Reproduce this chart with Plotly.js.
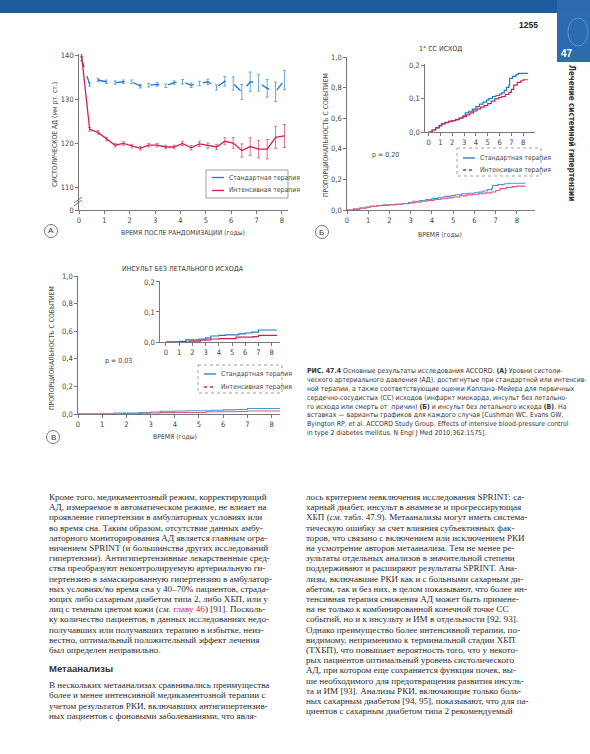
<!DOCTYPE html>
<html><head><meta charset="utf-8">
<script src="https://cdn.plot.ly/plotly-3.0.1.min.js"></script>
<style>html,body{margin:0;padding:0;background:#fff}#chart{width:590px;height:754px}</style>
</head><body><div id="chart"></div>
<script>
// ---------- DATA ----------
const seriesNames = ["Стандартная терапия", "Интенсивная терапия"];
// Panel A: systolic BP over time
const timeA = [0.1, 0.42, 0.75, 1.08, 1.42, 1.75, 2.08, 2.42, 2.75, 3.08, 3.42, 3.75, 4.08, 4.42, 4.75, 5.08, 5.42, 5.75, 6.08, 6.42, 6.75, 7.08, 7.42, 7.75, 8.1];
const stdSBP = [139.2, 133.4, 134.4, 134.0, 133.8, 134.0, 134.0, 133.0, 133.2, 133.4, 133.1, 133.8, 134.0, 133.2, 133.6, 134.0, 132.7, 134.1, 133.6, 131.7, 134.0, 133.8, 132.5, 131.7, 134.4];
const stdErr = [0.4, 0.4, 0.4, 0.4, 0.4, 0.4, 0.4, 0.4, 0.4, 0.4, 0.4, 0.4, 0.5, 0.5, 0.5, 0.6, 0.6, 1.1, 1.5, 1.7, 2.2, 1.9, 2.0, 2.2, 2.2];
const intSBP = [140.0, 123.2, 122.5, 121.0, 119.6, 120.0, 119.4, 118.9, 119.6, 119.6, 119.2, 119.2, 120.0, 119.0, 119.9, 119.5, 119.2, 120.5, 120.1, 118.4, 119.3, 118.7, 118.7, 121.4, 121.7];
const intErr = [0.3, 0.4, 0.4, 0.4, 0.4, 0.4, 0.4, 0.4, 0.4, 0.4, 0.4, 0.4, 0.5, 0.5, 0.6, 0.6, 0.6, 0.8, 1.2, 1.5, 2.0, 2.0, 2.2, 2.5, 2.6];
const yTicksA = [104.9, 110, 120, 130, 140];
const yTickTextA = ["0", "110", "120", "130", "140"];
// Panel B: primary CV outcome (Kaplan–Meier)
const timeB_std = [0, 0.3, 0.6, 0.9, 1.1, 1.4, 1.7, 2.0, 2.3, 2.6, 2.9, 3.1, 3.4, 3.7, 4.0, 4.3, 4.6, 4.9, 5.1, 5.4, 5.7, 6.0, 6.2, 6.4, 6.6, 6.8, 6.85, 7.1, 7.4, 7.6, 8.4];
const propB_std = [0, 0.006, 0.013, 0.02, 0.025, 0.029, 0.032, 0.034, 0.038, 0.042, 0.048, 0.057, 0.062, 0.068, 0.076, 0.083, 0.089, 0.095, 0.1, 0.106, 0.109, 0.113, 0.117, 0.124, 0.133, 0.14, 0.16, 0.166, 0.172, 0.175, 0.175];
const timeB_int = [0, 0.3, 0.6, 0.9, 1.1, 1.4, 1.7, 2.0, 2.3, 2.6, 2.9, 3.2, 3.5, 3.8, 4.1, 4.4, 4.7, 5.0, 5.3, 5.6, 5.9, 6.2, 6.5, 6.8, 7.0, 7.2, 7.5, 7.8, 8.0, 8.4];
const propB_int = [0, 0.006, 0.012, 0.018, 0.024, 0.028, 0.032, 0.034, 0.037, 0.041, 0.046, 0.051, 0.057, 0.063, 0.069, 0.074, 0.079, 0.085, 0.092, 0.099, 0.103, 0.106, 0.112, 0.118, 0.127, 0.14, 0.148, 0.153, 0.156, 0.156];
// Panel C: nonfatal stroke (Kaplan–Meier)
const timeC_std = [0, 1.0, 1.5, 2.5, 3.0, 3.4, 4.0, 4.5, 5.5, 6.0, 6.5, 7.0, 8.4];
const propC_std = [0, 0.002, 0.007, 0.01, 0.014, 0.02, 0.022, 0.024, 0.027, 0.03, 0.033, 0.04, 0.04];
const timeC_int = [0, 1.8, 2.6, 3.0, 3.4, 4.0, 5.3, 6.6, 7.0, 8.4];
const propC_int = [0, 0.003, 0.006, 0.007, 0.01, 0.011, 0.016, 0.018, 0.022, 0.022];
const yTicksMain = [0, 0.2, 0.4, 0.6, 0.8, 1.0];
const yTicksInset = [0, 0.1, 0.2];
const xTicks = [0, 1, 2, 3, 4, 5, 6, 7, 8];

const leftLines = [
"Кроме того, медикаментозный режим, корректирующий",
"АД, измеряемое в автоматическом режиме, не влияет на",
"проявление гипертензии в амбулаторных условиях или",
"во время сна. Таким образом, отсутствие данных амбу-",
"латорного мониторирования АД является главным огра-",
"ничением SPRINT (и большинства других исследований",
"гипертензии). Антигипертензивные лекарственные сред-",
"ства преобразуют неконтролируемую артериальную ги-",
"пертензию в замаскированную гипертензию в амбулатор-",
"ных условиях/во время сна у 40–70% пациентов, страда-",
"ющих либо сахарным диабетом типа 2, либо ХБП, или у",
"лиц с темным цветом кожи (<i>см.</i> <span style='color:#c8205a'>главу 46</span>) [91]. Посколь-",
"ку количество пациентов, в данных исследованиях недо-",
"получавших или получавших терапию в избытке, неиз-",
"вестно, оптимальный положительный эффект лечения",
"был определен неправильно."
];
const leftLines2 = [
"В нескольких метаанализах сравнивались преимущества",
"более и менее интенсивной медикаментозной терапии с",
"учетом результатов РКИ, включавших антигипертензив-",
"ных пациентов с фоновыми заболеваниями, что явля-"
];
const rightLines = [
"лось критерием невключения исследования SPRINT: са-",
"харный диабет, инсульт в анамнезе и прогрессирующая",
"ХБП (<i>см.</i> табл. 47.9). Метаанализы могут иметь система-",
"тическую ошибку за счет влияния субъективных фак-",
"торов, что связано с включением или исключением РКИ",
"на усмотрение авторов метаанализа. Тем не менее ре-",
"зультаты отдельных анализов в значительной степени",
"поддерживают и расширяют результаты SPRINT. Ана-",
"лизы, включавшие РКИ как и с больными сахарным ди-",
"абетом, так и без них, в целом показывают, что более ин-",
"тенсивная терапия снижения АД может быть примене-",
"на не только к комбинированной конечной точке СС",
"событий, но и к инсульту и ИМ в отдельности [92, 93].",
"Однако преимущество более интенсивной терапии, по-",
"видимому, неприменимо к терминальной стадии ХБП",
"(ТХБП), что повышает вероятность того, что у некото-",
"рых пациентов оптимальный уровень систолического",
"АД, при котором еще сохраняется функция почек, вы-",
"ше необходимого для предотвращения развития инсуль-",
"та и ИМ [93]. Анализы РКИ, включающие только боль-",
"ных сахарным диабетом [94, 95], показывают, что для па-",
"циентов с сахарным диабетом типа 2 рекомендуемый"
];
const captionLines = [
"<b>РИС. 47.4</b> Основные результаты исследования ACCORD. <b>(А)</b> Уровни систоли-",
"ческого артериального давления (АД), достигнутые при стандартной или интенсив-",
"ной терапии, а также соответствующие оценки Каплана–Мейера для первичных",
"сердечно-сосудистых (СС) исходов (инфаркт миокарда, инсульт без летально-",
"го исхода или смерть от  причин) <b>(Б)</b> и инсульт без летального исхода <b>(В)</b>. На",
"вставках — варианты графиков для каждого случая [Cushman WC, Evans GW,",
"Byington RP, et al. ACCORD Study Group. Effects of intensive blood-pressure control",
"in type 2 diabetes mellitus. N Engl J Med 2010;362:1575]."
];

// ---------- STYLE ----------
const W = 590, H = 754;
const PX = x => x / W, PY = y => 1 - y / H;
const BLUE = '#1f78c8', RED = '#d41f4f';
const NARROW = "'Liberation Sans Narrow', 'DejaVu Sans Condensed', 'Arial Narrow', sans-serif";
const SERIF = "'Liberation Serif', 'DejaVu Serif', serif";
const tickFont = {family: NARROW, size: 7.5, color: '#444'};

function axis(extra) {
  return Object.assign({
    showgrid: false, zeroline: false, showline: true, linecolor: '#555', linewidth: 0.8,
    ticks: 'outside', ticklen: 3, tickwidth: 0.8, tickcolor: '#555', tickfont: tickFont,
    fixedrange: true
  }, extra);
}

const data = [
  {x: timeA, y: stdSBP, xaxis: 'x', yaxis: 'y', mode: 'lines', name: seriesNames[0],
   line: {color: BLUE, width: 1.3, dash: 'dash'},
   error_y: {type: 'data', array: stdErr, color: '#6aa8e0', thickness: 1, width: 1.5}},
  {x: timeA, y: intSBP, xaxis: 'x', yaxis: 'y', mode: 'lines', name: seriesNames[1],
   line: {color: RED, width: 1.3},
   error_y: {type: 'data', array: intErr, color: '#e0708f', thickness: 1, width: 1.5}},
  {x: timeB_std, y: propB_std, xaxis: 'x2', yaxis: 'y2', mode: 'lines', line: {color: '#4a98dc', width: 1.1, shape: 'hv'}},
  {x: timeB_int, y: propB_int, xaxis: 'x2', yaxis: 'y2', mode: 'lines', line: {color: '#e05a80', width: 1.1, shape: 'hv'}},
  {x: timeB_std, y: propB_std, xaxis: 'x3', yaxis: 'y3', mode: 'lines', line: {color: BLUE, width: 1.2, shape: 'hv'}},
  {x: timeB_int, y: propB_int, xaxis: 'x3', yaxis: 'y3', mode: 'lines', line: {color: RED, width: 1.2, shape: 'hv'}},
  {x: timeC_std, y: propC_std, xaxis: 'x4', yaxis: 'y4', mode: 'lines', line: {color: '#4a98dc', width: 1.1, shape: 'hv'}},
  {x: timeC_int, y: propC_int, xaxis: 'x4', yaxis: 'y4', mode: 'lines', line: {color: '#e05a80', width: 1.1, shape: 'hv'}},
  {x: timeC_std, y: propC_std, xaxis: 'x5', yaxis: 'y5', mode: 'lines', line: {color: BLUE, width: 1.2, shape: 'hv'}},
  {x: timeC_int, y: propC_int, xaxis: 'x5', yaxis: 'y5', mode: 'lines', line: {color: RED, width: 1.2, shape: 'hv'}}
];

const annotations = [];
const shapes = [];
function txt(x, y, text, opts) {
  annotations.push(Object.assign({x: PX(x), y: PY(y), xref: 'paper', yref: 'paper', text: text,
    showarrow: false, xanchor: 'left', yanchor: 'middle',
    font: {family: NARROW, size: 7, color: '#333'}}, opts || {}));
}
function line(x0, y0, x1, y1, color, width, dash) {
  shapes.push({type: 'line', xref: 'paper', yref: 'paper', x0: PX(x0), y0: PY(y0), x1: PX(x1), y1: PY(y1),
    line: {color: color, width: width || 1, dash: dash || 'solid'}});
}
function rect(x0, y0, x1, y1, fill, lc, lw, dash) {
  shapes.push({type: 'rect', xref: 'paper', yref: 'paper', x0: PX(x0), y0: PY(y0), x1: PX(x1), y1: PY(y1),
    fillcolor: fill, line: {color: lc || fill, width: lw === undefined ? 0 : lw, dash: dash || 'solid'}});
}
function circleLabel(cx, cy, letter) {
  shapes.push({type: 'circle', xref: 'paper', yref: 'paper', x0: PX(cx - 6.5), x1: PX(cx + 6.5), y0: PY(cy + 6.5), y1: PY(cy - 6.5),
    line: {color: '#555', width: 0.8}});
  txt(cx, cy, letter, {xanchor: 'center', font: {family: "'Liberation Sans', sans-serif", size: 8, color: '#333'}});
}
function legendBox(x0, y0, x1, y1, ys, dashBorder) {
  rect(x0, y0, x1, y1, 'rgba(255,255,255,1)', '#888', 0.8, dashBorder ? 'dot' : 'solid');
  line(x0 + 6, ys[0], x0 + 18, ys[0], BLUE, 1.3);
  line(x0 + 6, ys[1], x0 + 18, ys[1], RED, 1.3, dashBorder ? 'dot' : 'solid');
  txt(x0 + 21, ys[0], seriesNames[0], {font: {family: NARROW, size: 6.8, color: '#444'}});
  txt(x0 + 21, ys[1], seriesNames[1], {font: {family: NARROW, size: 6.8, color: '#444'}});
}

// Header
rect(0, 0, 590, 13, '#1d5c9e');
rect(557, 0, 590, 13, '#2c6aae');
rect(557, 13, 590, 62, '#2b6cb0');
shapes.push({type: 'circle', xref: 'paper', yref: 'paper', x0: PX(568), x1: PX(588), y0: PY(46), y1: PY(18), line: {color: '#5d94cf', width: 1}});
txt(559, 54, '<b>47</b>', {font: {family: "'Liberation Sans', sans-serif", size: 10, color: '#fff'}});
txt(540, 25, '<b>1255</b>', {xanchor: 'right', font: {family: "'Liberation Sans', sans-serif", size: 8.5, color: '#222'}});
txt(572, 133, '<b>Лечение системной гипертензии</b>', {xanchor: 'center', textangle: 90, font: {family: NARROW, size: 8, color: '#333'}});

// Panel A extras
line(74, 203, 82, 197, '#555', 0.8);
line(74, 206, 82, 200, '#555', 0.8);
txt(55, 135, 'СИСТОЛИЧЕСКОЕ АД (мм рт. ст.)', {xanchor: 'center', textangle: -90, font: {family: NARROW, size: 6.8, color: '#444'}});
txt(183, 233, 'ВРЕМЯ ПОСЛЕ РАНДОМИЗАЦИИ (годы)', {xanchor: 'center', font: {family: NARROW, size: 6.8, color: '#444'}});
circleLabel(51, 231, 'A');
legendBox(206, 170, 288, 198, [177.5, 190.5], false);

// Panel B extras
txt(440, 49, '1° СС ИСХОД', {xanchor: 'center', font: {family: NARROW, size: 7, color: '#333'}});
txt(326, 135, 'ПРОПОРЦИОНАЛЬНОСТЬ С СОБЫТИЕМ', {xanchor: 'center', textangle: -90, font: {family: NARROW, size: 6.8, color: '#444'}});
txt(440, 235, 'ВРЕМЯ (годы)', {xanchor: 'center', font: {family: NARROW, size: 6.8, color: '#444'}});
txt(370, 155, 'p = 0,20', {font: {family: NARROW, size: 7, color: '#444'}});
circleLabel(322, 232, 'Б');
legendBox(457, 148, 541, 176, [158, 170], true);

// Panel C extras
txt(183, 269, 'ИНСУЛЬТ БЕЗ ЛЕТАЛЬНОГО ИСХОДА', {xanchor: 'center', font: {family: NARROW, size: 7, color: '#333'}});
txt(52, 348, 'ПРОПОРЦИОНАЛЬНОСТЬ С СОБЫТИЕМ', {xanchor: 'center', textangle: -90, font: {family: NARROW, size: 6.8, color: '#444'}});
txt(175, 437, 'ВРЕМЯ (годы)', {xanchor: 'center', font: {family: NARROW, size: 6.8, color: '#444'}});
txt(103, 361, 'p = 0,03', {font: {family: NARROW, size: 7, color: '#444'}});
circleLabel(53, 437, 'В');
legendBox(198, 365, 282, 393, [374, 387], true);

// Caption
captionLines.forEach((s, i) => txt(305, 371 + i * 8.9, s, {font: {family: NARROW, size: 6.9, color: '#333'}}));

// Body text
const BODY = {family: SERIF, size: 9.1, color: '#2a2a2a'};
leftLines.forEach((s, i) => txt(47, 497 + i * 10.2, s, {font: BODY}));
txt(47, 668, '<b>Метаанализы</b>', {font: {family: "'Liberation Sans', sans-serif", size: 9.5, color: '#333'}});
leftLines2.forEach((s, i) => txt(47, 685 + i * 10.3, s, {font: BODY}));
rightLines.forEach((s, i) => txt(304, 497 + i * 10.2, s, {font: BODY}));

const layout = {
  width: W, height: H, margin: {l: 0, r: 0, t: 0, b: 0},
  paper_bgcolor: '#fff', plot_bgcolor: 'rgba(0,0,0,0)', showlegend: false,
  separators: ', ',
  xaxis: axis({domain: [PX(79), PX(288)], range: [0, 8.24], tickvals: xTicks, anchor: 'y'}),
  yaxis: axis({domain: [PY(210), PY(54)], range: [104.9, 140.3], tickvals: yTicksA, ticktext: yTickTextA, anchor: 'x'}),
  xaxis2: axis({domain: [PX(347), PX(535)], range: [0, 8.85], tickvals: xTicks, anchor: 'y2'}),
  yaxis2: axis({domain: [PY(210), PY(57)], range: [0, 1.0], tickvals: yTicksMain, tickformat: '.1f', anchor: 'x2'}),
  xaxis3: axis({domain: [PX(425), PX(535)], range: [-0.3, 9.0], tickvals: xTicks, anchor: 'y3'}),
  yaxis3: axis({domain: [PY(132), PY(64)], range: [0, 0.203], tickvals: yTicksInset, tickformat: '.1f', anchor: 'x3'}),
  xaxis4: axis({domain: [PX(78), PX(280)], range: [0, 8.35], tickvals: xTicks, anchor: 'y4'}),
  yaxis4: axis({domain: [PY(414), PY(276)], range: [0, 1.0], tickvals: yTicksMain, tickformat: '.1f', anchor: 'x4'}),
  xaxis5: axis({domain: [PX(160), PX(280)], range: [-0.45, 8.63], tickvals: xTicks, anchor: 'y5'}),
  yaxis5: axis({domain: [PY(342), PY(281)], range: [0, 0.203], tickvals: yTicksInset, tickformat: '.1f', anchor: 'x5'}),
  annotations: annotations, shapes: shapes
};
Plotly.newPlot('chart', data, layout, {staticPlot: true, displayModeBar: false});
</script></body></html>
